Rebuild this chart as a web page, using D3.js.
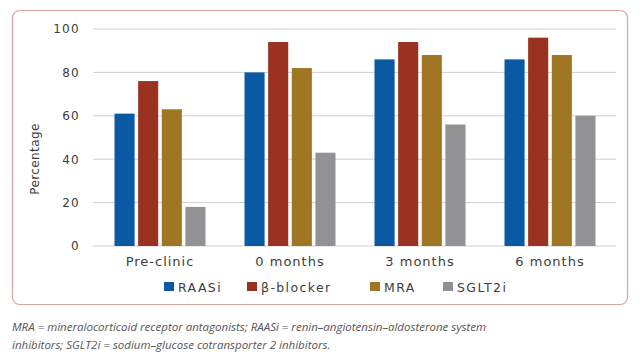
<!DOCTYPE html>
<html><head><meta charset="utf-8">
<script src="https://cdn.jsdelivr.net/npm/d3@7"></script>
<style>body{margin:0;background:#fff}svg{display:block}</style>
</head><body>
<svg id="c" width="640" height="360"></svg>
<script>
const categories = ["Pre-clinic","0 months","3 months","6 months"];
const seriesNames = ["RAASi","β-blocker","MRA","SGLT2i"];
const raasi = [61,80,86,86];
const betaBlocker = [76,94,94,96];
const mra = [63,82,88,88];
const sglt2i = [18,43,56,60];
const yTicks = [0,20,40,60,80,100];
const colors = ["#0a5aa3","#9a3222","#a07624","#929195"];
const seriesValues = [raasi, betaBlocker, mra, sglt2i];

const svg = d3.select("#c");
const font = "'DejaVu Sans', sans-serif";
const capFont = "'Open Sans', sans-serif";
const txt = "#3d3d3d";

svg.append("rect").attr("x",12.5).attr("y",10.5).attr("width",615).attr("height",294)
  .attr("rx",7).attr("fill","none").attr("stroke","#d9a3a3").attr("stroke-width",1.2);

const y = d3.scaleLinear().domain([0,100]).range([246,29]);
const x = d3.scaleBand().domain(categories).range([95,615]).paddingInner(0.3).paddingOuter(0.15);
const xs = d3.scaleBand().domain(seriesNames).range([0,x.bandwidth()]).paddingInner(0.15).paddingOuter(0);

const grid = svg.append("g");
grid.selectAll("line").data(yTicks).join("line")
  .attr("x1",93).attr("x2",616).attr("y1",d=>y(d)).attr("y2",d=>y(d))
  .attr("stroke","#cfcfcf").attr("stroke-width",1);

const yAxis = svg.append("g").attr("transform","translate(93,0)")
  .call(d3.axisLeft(y).tickValues(yTicks).tickSize(0).tickPadding(13));
yAxis.select(".domain").remove();
yAxis.selectAll("text").attr("font-family",font).attr("font-size",12).attr("letter-spacing",1.3).attr("fill",txt);

const groups = svg.append("g").selectAll("g").data(categories).join("g")
  .attr("transform",c=>`translate(${x(c)},0)`);
groups.selectAll("rect").data((c,i)=>seriesNames.map((s,j)=>({s,v:seriesValues[j][i],j})))
  .join("rect")
  .attr("x",d=>xs(d.s)).attr("width",xs.bandwidth())
  .attr("y",d=>y(d.v)).attr("height",d=>y(0)-y(d.v))
  .attr("fill",d=>colors[d.j]);

const xAxis = svg.append("g").attr("transform","translate(0,246)")
  .call(d3.axisBottom(x).tickSize(0).tickPadding(11));
xAxis.select(".domain").remove();
xAxis.selectAll("text").attr("font-family",font).attr("font-size",13).attr("letter-spacing",1).attr("fill",txt);

svg.append("text").attr("transform","translate(39,159) rotate(-90)")
  .attr("text-anchor","middle").attr("font-family",font).attr("font-size",12).attr("letter-spacing",0.4).attr("fill",txt)
  .text("Percentage");

const legX = [164,247,370,443];
const leg = svg.append("g").selectAll("g").data(seriesNames).join("g")
  .attr("transform",(d,i)=>`translate(${legX[i]},282)`);
leg.append("rect").attr("width",10).attr("height",9).attr("fill",(d,i)=>colors[i]);
leg.append("text").attr("x",14).attr("y",9.5).attr("font-family",font).attr("font-size",12.5).attr("letter-spacing",1.4)
  .attr("fill",txt).text(d=>d);

const cap = ["MRA = mineralocorticoid receptor antagonists; RAASi = renin\u2013angiotensin\u2013aldosterone system",
  "inhibitors; SGLT2i = sodium\u2013glucose cotransporter 2 inhibitors."];
svg.append("g").selectAll("text").data(cap).join("text")
  .attr("x",12).attr("y",(d,i)=>331+i*18).attr("font-family",capFont).attr("font-style","italic")
  .attr("font-size",11.5).attr("fill","#555").text(d=>d);
</script>
</body></html>
